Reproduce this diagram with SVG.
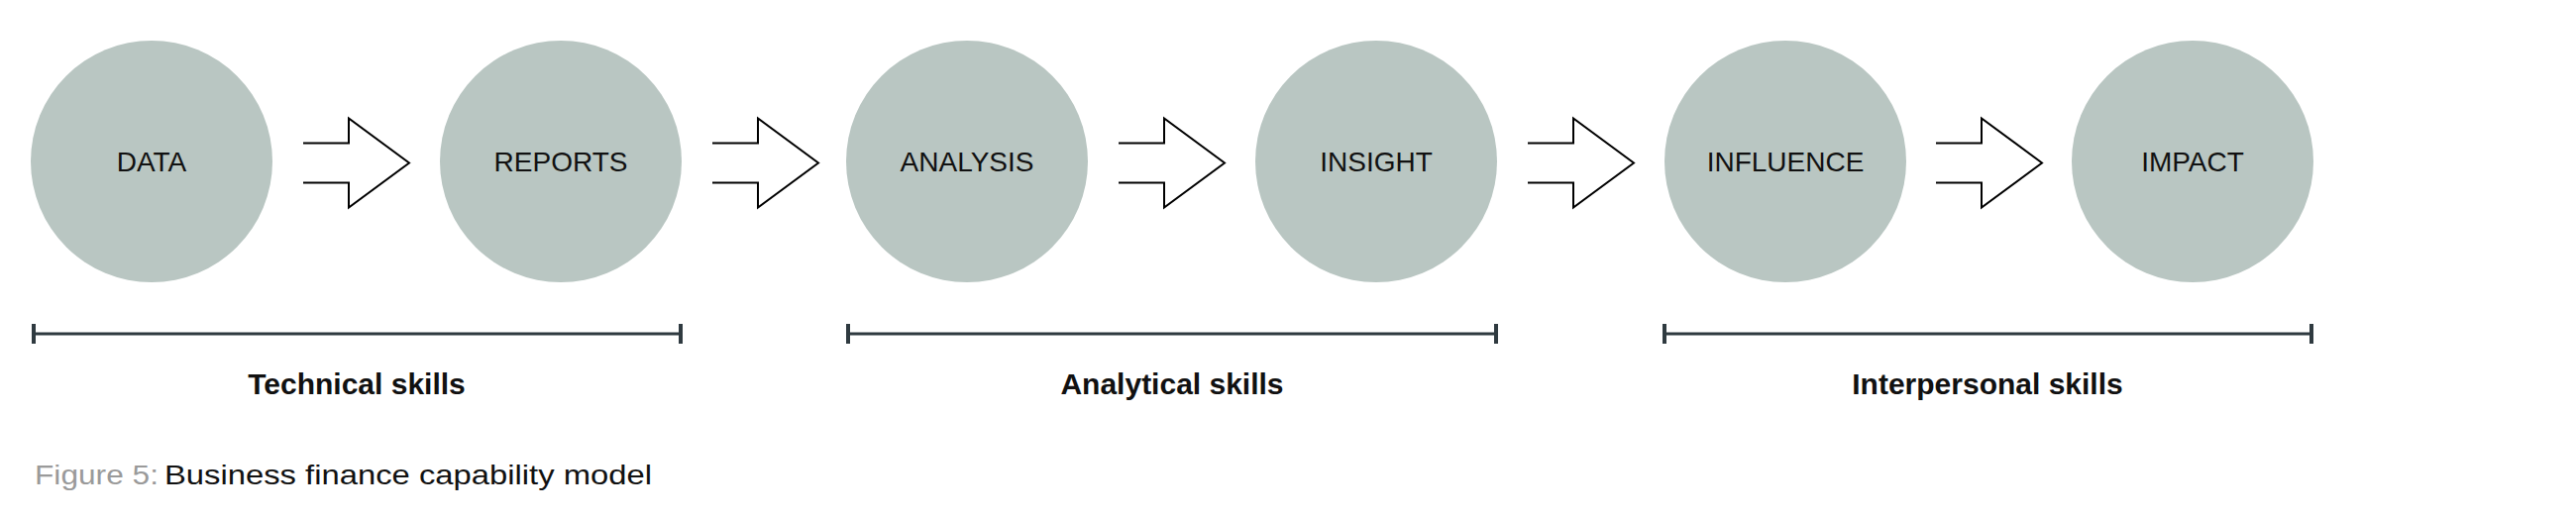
<svg xmlns="http://www.w3.org/2000/svg" width="2600" height="524" viewBox="0 0 2600 524">
  <style>
    .node { fill: #b9c6c2; }
    .nlabel { font-family: "Liberation Sans", Arial, sans-serif; font-size: 28px; fill: #111111; text-anchor: middle; }
    .arrow { fill: #ffffff; stroke: #000000; stroke-width: 2; stroke-linejoin: miter; }
    .bar { stroke: #2f3a40; stroke-width: 3; fill: none; }
    .tick { fill: #2f3a40; }
    .glabel { font-family: "Liberation Sans", Arial, sans-serif; font-size: 30px; font-weight: bold; fill: #111111; text-anchor: middle; }
    .cap { font-family: "Liberation Sans", Arial, sans-serif; font-size: 28px; }
  </style>
  <rect width="2600" height="524" fill="#ffffff"/>

  <g id="node-data">
    <circle class="node" cx="153" cy="163" r="122"/>
    <text class="nlabel" x="153" y="173">DATA</text>
  </g>
  <g id="node-reports">
    <circle class="node" cx="566" cy="163" r="122"/>
    <text class="nlabel" x="566" y="173">REPORTS</text>
  </g>
  <g id="node-analysis">
    <circle class="node" cx="976" cy="163" r="122"/>
    <text class="nlabel" x="976" y="173">ANALYSIS</text>
  </g>
  <g id="node-insight">
    <circle class="node" cx="1389" cy="163" r="122"/>
    <text class="nlabel" x="1389" y="173">INSIGHT</text>
  </g>
  <g id="node-influence">
    <circle class="node" cx="1802" cy="163" r="122"/>
    <text class="nlabel" x="1802" y="173">INFLUENCE</text>
  </g>
  <g id="node-impact">
    <circle class="node" cx="2213" cy="163" r="122"/>
    <text class="nlabel" x="2213" y="173">IMPACT</text>
  </g>

  <g id="connectors">
    <path class="arrow" d="M306,144.5 H352 V119.5 L413,164.5 L352,209.5 V184.5 H306"/>
    <path class="arrow" d="M719,144.5 H765 V119.5 L826,164.5 L765,209.5 V184.5 H719"/>
    <path class="arrow" d="M1129,144.5 H1175 V119.5 L1236,164.5 L1175,209.5 V184.5 H1129"/>
    <path class="arrow" d="M1542,144.5 H1588 V119.5 L1649,164.5 L1588,209.5 V184.5 H1542"/>
    <path class="arrow" d="M1954,144.5 H2000 V119.5 L2061,164.5 L2000,209.5 V184.5 H1954"/>
  </g>

  <g id="group-technical">
    <line class="bar" x1="34" y1="337" x2="687" y2="337"/>
    <rect class="tick" x="32" y="327" width="4" height="20"/>
    <rect class="tick" x="685" y="327" width="4" height="20"/>
    <text class="glabel" x="360" y="398">Technical skills</text>
  </g>
  <g id="group-analytical">
    <line class="bar" x1="856" y1="337" x2="1510" y2="337"/>
    <rect class="tick" x="854" y="327" width="4" height="20"/>
    <rect class="tick" x="1508" y="327" width="4" height="20"/>
    <text class="glabel" x="1183" y="398">Analytical skills</text>
  </g>
  <g id="group-interpersonal">
    <line class="bar" x1="1680" y1="337" x2="2333" y2="337"/>
    <rect class="tick" x="1678" y="327" width="4" height="20"/>
    <rect class="tick" x="2331" y="327" width="4" height="20"/>
    <text class="glabel" x="2006" y="398">Interpersonal skills</text>
  </g>

  <g id="caption">
    <text class="cap" x="35" y="489" fill="#9a9a9a" textLength="125" lengthAdjust="spacingAndGlyphs">Figure 5:</text>
    <text class="cap" x="166" y="489" fill="#111111" textLength="492" lengthAdjust="spacingAndGlyphs">Business finance capability model</text>
  </g>
</svg>
